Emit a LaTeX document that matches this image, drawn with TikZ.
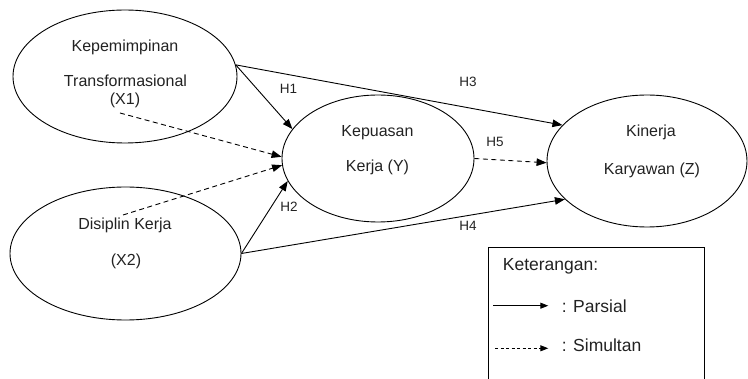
\documentclass[tikz,border=0pt]{standalone}
\usepackage{fontspec}
\setmainfont{Liberation Sans}
\usetikzlibrary{shapes.geometric,arrows.meta}
\definecolor{txt}{HTML}{222222}
\tikzset{
  var/.style={draw=black, line width=0.9pt, ellipse, inner sep=0pt},
  lbl/.style={anchor=base, inner sep=0pt, text=txt, font=\fontsize{16pt}{18pt}\selectfont},
  hlbl/.style={anchor=base, inner sep=0pt, text=txt, font=\fontsize{13.5pt}{15pt}\selectfont},
  leg/.style={anchor=base west, inner sep=0pt, text=txt, font=\fontsize{17.5pt}{19pt}\selectfont},
  arr/.style={draw=black, line width=0.9pt, -{Triangle[length=10pt,width=7.5pt]}},
  darr/.style={arr, dash pattern=on 5pt off 3.5pt},
  legarr/.style={draw=black, line width=0.9pt, -{Triangle[length=8pt,width=6pt]}},
  legdarr/.style={legarr, dash pattern=on 3pt off 2.5pt},
}
\begin{document}
\begin{tikzpicture}[x=1pt,y=-1pt]
\useasboundingbox (0,0) rectangle (748,379);
% ellipses
\node[var, minimum width=224pt, minimum height=133pt] (X1) at (125,76.5) {};
\node[var, minimum width=231pt, minimum height=133pt] (X2) at (125.5,253.5) {};
\node[var, minimum width=192pt, minimum height=127pt] (Y) at (378,158.5) {};
\node[var, minimum width=200pt, minimum height=132pt] (Z) at (647,161) {};
% texts
\node[lbl] (t1) at (125,51.5) {Kepemimpinan};
\node[lbl] (t2) at (125.5,87) {Transformasional};
\node[lbl] (t3) at (125,105) {(X1)};
\node[lbl] (t4) at (125,230) {Disiplin Kerja};
\node[lbl] (t5) at (126,266) {(X2)};
\node[lbl] (t6) at (377.5,136.7) {Kepuasan};
\node[lbl] (t7) at (377.5,172) {Kerja (Y)};
\node[lbl] (t8) at (651,136.7) {Kinerja};
\node[lbl] (t9) at (652,175) {Karyawan (Z)};
% hypothesis labels
\node[hlbl] (h1) at (288.5,94) {H1};
\node[hlbl] (h2) at (289,211.7) {H2};
\node[hlbl] (h3) at (468,86.7) {H3};
\node[hlbl] (h4) at (468,230.7) {H4};
\node[hlbl] (h5) at (495,146.7) {H5};
% dashed start points
\coordinate (x1d) at (120,113);
\coordinate (x2d) at (123,215);
% connectors
\draw[arr] (X1.6) -- (Y.161);
\draw[arr] (X1.6) -- (Z.157);
\draw[darr] (x1d) -- (Y.179);
\draw[darr] (x2d) -- (Y.184.5);
\draw[arr] (X2.0) -- (Y.194);
\draw[arr] (X2.0) -- (Z.205);
\draw[darr] (Y.0) -- (Z.181);
% legend
\draw[line width=0.9pt] (488,390) -- (488,247) -- (704,247) -- (704,390);
\node[leg] (k) at (502.7,270.7) {Keterangan:};
\coordinate (la1) at (493.3,305.7);
\coordinate (lb1) at (548.3,305.7);
\coordinate (la2) at (495,348.3);
\coordinate (lb2) at (548.3,348.3);
\draw[legarr] (la1) -- (lb1);
\draw[legdarr] (la2) -- (lb2);
\node[leg] (p) at (561.7,312.7) {: Parsial};
\node[leg] (s) at (561.7,351.7) {: Simultan};
\end{tikzpicture}
\end{document}
